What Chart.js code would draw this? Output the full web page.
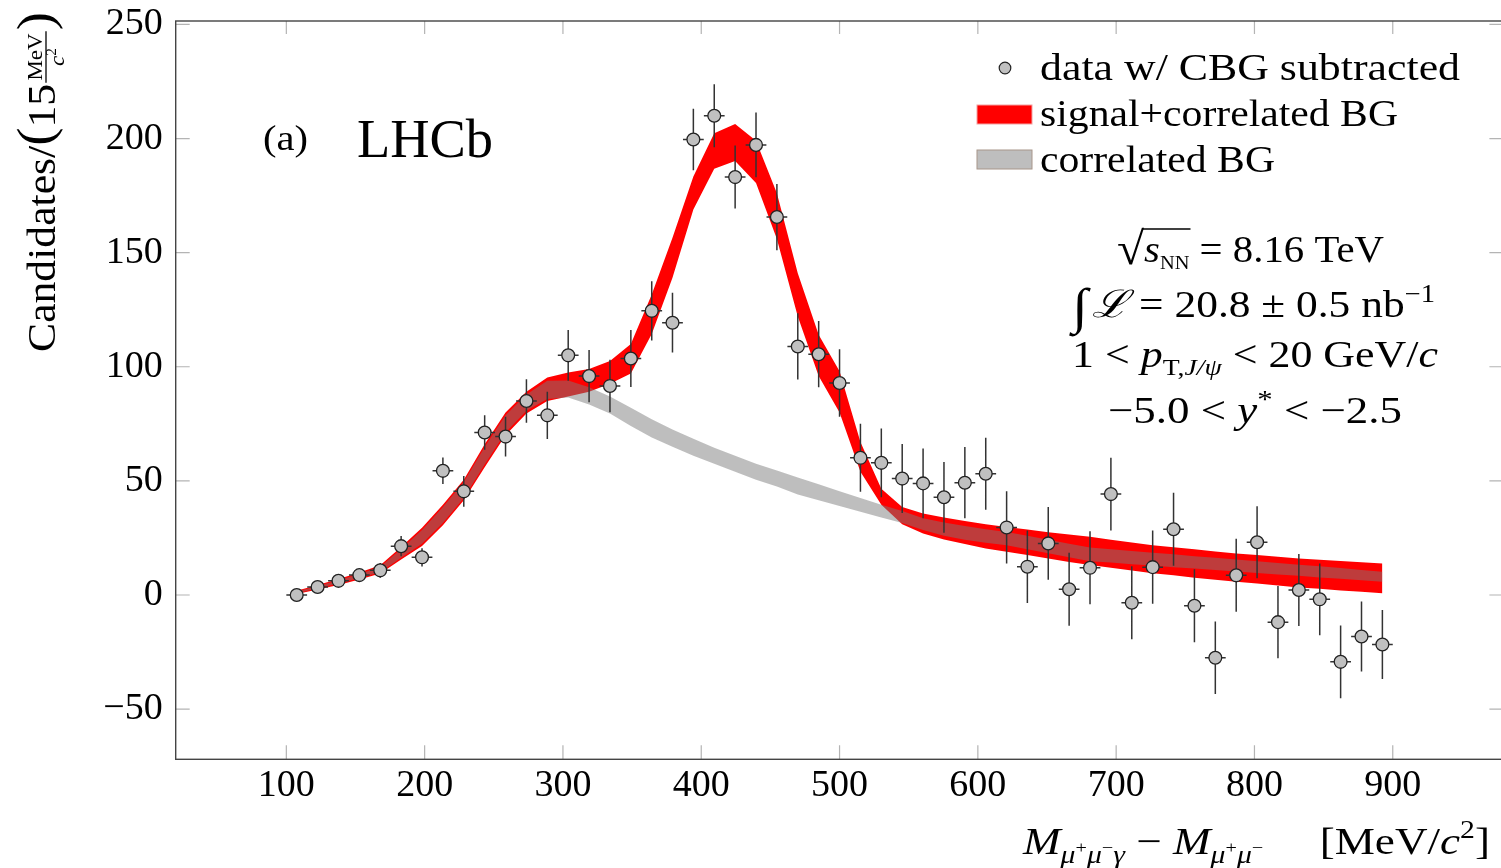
<!DOCTYPE html>
<html lang="en">
<head>
<meta charset="UTF-8">
<title>LHCb (a) mass difference</title>
<style>
  html, body { margin: 0; padding: 0; background: #fff; overflow: hidden; }
  #wrap { width: 1506px; height: 868px; }
</style>
</head>
<body>
<div id="wrap"><canvas id="massChart" width="1506" height="868"></canvas></div>
<script src="https://cdn.jsdelivr.net/npm/chart.js"></script>
<script>
// bin centres, MeV/c^2
const binCentres = [107.5, 122.6, 137.7, 152.8, 167.9, 183.0, 198.1, 213.2, 228.3, 243.4,
  258.5, 273.6, 288.7, 303.8, 318.9, 334.0, 349.1, 364.2, 379.2, 394.3,
  409.4, 424.5, 439.6, 454.7, 469.8, 484.9, 500.0, 515.1, 530.2, 545.3,
  560.4, 575.5, 590.6, 605.7, 620.8, 635.8, 650.9, 666.0, 681.1, 696.2,
  711.3, 726.4, 741.5, 756.6, 771.7, 786.8, 801.9, 817.0, 832.1, 847.2,
  862.3, 877.4, 892.5];

// data w/ CBG subtracted
const dataValues = [0, 3.5, 6.2, 8.7, 10.8, 21.4, 16.5, 54.4, 45.4, 71.2,
  69.4, 85.0, 78.7, 105.0, 95.9, 91.6, 103.6, 124.5, 119.3, 199.6,
  210.0, 183.1, 197.2, 165.6, 108.9, 105.5, 92.9, 60.1, 57.9, 51.0,
  48.9, 42.8, 49.2, 53.1, 29.6, 12.4, 22.6, 2.5, 11.9, 44.2,
  -3.4, 12.2, 28.8, -4.7, -27.5, 8.6, 23.1, -11.9, 2.2, -1.9,
  -29.3, -18.2, -21.7];
const dataErrors = [1.2, 1.8, 2.3, 2.8, 3.2, 4.4, 4.0, 5.8, 6.7, 7.6,
  8.7, 9.5, 10.3, 11.1, 11.4, 11.5, 12.5, 13.0, 13.1, 13.5,
  13.8, 13.8, 14.2, 14.5, 14.5, 14.5, 14.8, 14.9, 15.1, 15.1,
  15.3, 15.5, 15.6, 15.8, 15.8, 15.9, 15.9, 16.0, 16.0, 15.9,
  16.0, 16.0, 16.0, 16.0, 15.9, 16.0, 15.8, 15.8, 15.8, 15.7,
  15.9, 15.3, 15.1];
const binHalfWidth = 7.5;

// signal+correlated BG band
const fullUpper = [1.8, 4.4, 7.0, 9.8, 13.0, 21.0, 29.5, 39.5, 50.5, 66.0,
  80.0, 89.0, 95.3, 97.5, 99.0, 102.5, 110.0, 131.7, 156.5, 183.4,
  202.3, 206.4, 199.0, 176.0, 141.0, 114.0, 98.0, 67.0, 46.5, 38.6,
  35.7, 33.9, 32.4, 31.0, 29.8, 28.7, 27.5, 26.5, 25.5, 24.2,
  23.0, 21.8, 20.9, 20.0, 19.1, 18.2, 17.5, 16.7, 16.0, 15.4,
  14.9, 14.3, 13.8];
const fullLower = [0.4, 2.4, 4.4, 6.8, 9.4, 15.5, 21.5, 30.5, 41.5, 56.0,
  70.0, 79.5, 85.0, 87.0, 89.0, 92.5, 97.0, 114.3, 139.0, 168.9,
  186.8, 190.2, 180.5, 156.0, 122.0, 96.0, 80.0, 54.0, 39.5, 31.0,
  26.9, 24.3, 22.3, 20.4, 18.9, 17.5, 16.0, 14.5, 13.1, 11.9,
  10.7, 9.5, 8.6, 7.6, 6.7, 5.8, 5.0, 4.1, 3.3, 2.7,
  2.0, 1.4, 0.8];

// correlated BG band
const bgUpper = [1.5, 3.9, 6.4, 9.2, 12.4, 20.2, 28.5, 38.5, 49.5, 64.8,
  78.8, 87.8, 93.9, 94.0, 91.0, 87.0, 82.0, 77.0, 72.5, 68.5,
  64.5, 61.0, 57.5, 54.5, 51.5, 48.5, 45.5, 42.5, 39.5, 36.8,
  33.6, 31.8, 30.2, 28.8, 27.6, 25.9, 24.2, 22.5, 20.8, 20.0,
  19.3, 18.5, 17.8, 17.0, 16.3, 15.5, 14.8, 14.0, 13.3, 12.6,
  11.8, 11.0, 10.2];
const bgLower = [0.7, 2.9, 5.0, 7.4, 10.0, 16.3, 22.5, 31.5, 42.5, 57.2,
  71.2, 80.7, 85.9, 86.5, 83.5, 79.5, 74.0, 69.0, 65.0, 61.0,
  57.5, 54.0, 50.5, 47.5, 44.0, 41.5, 39.0, 36.5, 34.0, 31.5,
  28.5, 26.0, 24.2, 22.9, 21.8, 20.0, 18.3, 16.5, 14.8, 14.2,
  13.5, 12.9, 12.2, 11.6, 10.9, 10.3, 9.6, 9.0, 8.4, 7.7,
  7.1, 6.4, 5.8];

const xTickValues = [100, 200, 300, 400, 500, 600, 700, 800, 900];
const yTickValues = [-50, 0, 50, 100, 150, 200, 250];

const SERIF = '"Liberation Serif", "DejaVu Serif", serif';
const DATA_INDEX = 4;

const toPoints = ys => binCentres.map((x, i) => ({ x: x, y: ys[i] }));

function fontOf(p) {
  return (p.it ? 'italic ' : '') + p.s + 'px ' + SERIF;
}

// draws a row of text pieces (sub/superscripts via dy), stretched to fit the width
function fitRuns(ctx, parts, x, y, width) {
  const widths = parts.map(p => { ctx.font = fontOf(p); return ctx.measureText(p.t).width; });
  const total = widths.reduce((a, b) => a + b, 0);
  const sx = width ? width / total : 1;
  ctx.save();
  ctx.translate(x, y);
  ctx.scale(sx, 1);
  ctx.fillStyle = '#000';
  ctx.textBaseline = 'alphabetic';
  ctx.textAlign = 'left';
  let cx = 0, barFrom = null, barTo = null, barY = 0;
  parts.forEach((p, i) => {
    ctx.font = fontOf(p);
    ctx.fillText(p.t, cx, p.dy || 0);
    if (p.over !== undefined) {
      if (barFrom === null) barFrom = cx;
      barTo = cx + widths[i];
      barY = p.over;
    }
    cx += widths[i];
  });
  if (barFrom !== null) {
    ctx.strokeStyle = '#000';
    ctx.lineWidth = 1.6;
    ctx.beginPath();
    ctx.moveTo(barFrom - 1, barY);
    ctx.lineTo(barTo + 1, barY);
    ctx.stroke();
  }
  ctx.restore();
}

const framePlugin = {
  id: 'frame',
  beforeDatasetsDraw(chart) {
    const { ctx, chartArea: a, scales } = chart;
    ctx.save();
    ctx.strokeStyle = '#b4b4b4';
    ctx.lineWidth = 1.2;
    ctx.beginPath();
    xTickValues.forEach(v => {
      const px = scales.x.getPixelForValue(v);
      ctx.moveTo(px, a.bottom); ctx.lineTo(px, a.bottom - 14);
      ctx.moveTo(px, a.top); ctx.lineTo(px, a.top + 13);
    });
    yTickValues.forEach(v => {
      const py = scales.y.getPixelForValue(v);
      ctx.moveTo(a.left, py); ctx.lineTo(a.left + 14, py);
      ctx.moveTo(a.right, py); ctx.lineTo(a.right - 14, py);
    });
    ctx.stroke();
    ctx.strokeStyle = '#444';
    ctx.lineWidth = 1.4;
    ctx.strokeRect(a.left, a.top, a.right - a.left, a.bottom - a.top);
    ctx.restore();
  }
};

const errorBarPlugin = {
  id: 'errorBars',
  beforeDatasetDraw(chart, args) {
    if (args.index !== DATA_INDEX) return;
    const { ctx, scales } = chart;
    ctx.save();
    ctx.strokeStyle = '#333';
    ctx.lineWidth = 1.5;
    ctx.beginPath();
    binCentres.forEach((x, i) => {
      const px = scales.x.getPixelForValue(x);
      const py = scales.y.getPixelForValue(dataValues[i]);
      ctx.moveTo(px, scales.y.getPixelForValue(dataValues[i] + dataErrors[i]));
      ctx.lineTo(px, scales.y.getPixelForValue(dataValues[i] - dataErrors[i]));
      ctx.moveTo(scales.x.getPixelForValue(x - binHalfWidth), py);
      ctx.lineTo(scales.x.getPixelForValue(x + binHalfWidth), py);
    });
    ctx.stroke();
    ctx.restore();
  }
};

const textPlugin = {
  id: 'texts',
  afterDraw(chart) {
    const ctx = chart.ctx;

    // legend
    ctx.save();
    ctx.beginPath();
    ctx.arc(1005, 68, 5.8, 0, Math.PI * 2);
    ctx.fillStyle = '#c0c0c0';
    ctx.fill();
    ctx.strokeStyle = '#222';
    ctx.lineWidth = 1.2;
    ctx.stroke();
    ctx.fillStyle = '#ff0000';
    ctx.fillRect(977, 105, 55, 19);
    ctx.strokeStyle = '#f3a0a0';
    ctx.lineWidth = 1;
    ctx.strokeRect(977, 105, 55, 19);
    ctx.fillStyle = '#bebebe';
    ctx.fillRect(977, 150, 55, 19);
    ctx.strokeStyle = '#a8968a';
    ctx.strokeRect(977, 150, 55, 19);
    ctx.restore();
    fitRuns(ctx, [{ t: 'data w/ CBG subtracted', s: 38 }], 1040, 80, 420);
    fitRuns(ctx, [{ t: 'signal+correlated BG', s: 38 }], 1040, 126, 358);
    fitRuns(ctx, [{ t: 'correlated BG', s: 38 }], 1040, 172, 235);

    // labels
    fitRuns(ctx, [{ t: '(a)', s: 36 }], 263, 150, 45);
    fitRuns(ctx, [{ t: 'LHCb', s: 54 }], 357, 157, 136);

    fitRuns(ctx, [
      { t: '\u221A', s: 46, dy: 2 },
      { t: 's', s: 38, it: true, over: -33 },
      { t: 'NN', s: 19, dy: 7, over: -33 },
      { t: ' = 8.16 TeV', s: 38 }
    ], 1117, 262, 267);
    fitRuns(ctx, [
      { t: '\u222B', s: 50, dy: 6 },
      { t: ' ', s: 14 },
      { t: '\u2112', s: 38, it: true },
      { t: ' = 20.8 \u00B1 0.5 nb', s: 38 },
      { t: '\u22121', s: 25, dy: -15 }
    ], 1072, 317, 363);
    fitRuns(ctx, [
      { t: '1 < ', s: 38 },
      { t: 'p', s: 38, it: true },
      { t: 'T,', s: 24, dy: 8 },
      { t: 'J/\u03C8', s: 24, it: true, dy: 8 },
      { t: ' < 20 GeV/', s: 38 },
      { t: 'c', s: 38, it: true }
    ], 1072, 367, 366);
    fitRuns(ctx, [
      { t: '\u22125.0 < ', s: 38 },
      { t: 'y', s: 38, it: true },
      { t: '*', s: 26, dy: -15 },
      { t: ' < \u22122.5', s: 38 }
    ], 1108, 423, 294);

    // x title
    fitRuns(ctx, [
      { t: 'M', s: 38, it: true },
      { t: '\u03BC', s: 25, it: true, dy: 9 },
      { t: '+', s: 17, dy: -1 },
      { t: '\u03BC', s: 25, it: true, dy: 9 },
      { t: '\u2212', s: 17, dy: -1 },
      { t: '\u03B3', s: 25, it: true, dy: 9 },
      { t: ' \u2212 ', s: 38 },
      { t: 'M', s: 38, it: true },
      { t: '\u03BC', s: 25, it: true, dy: 9 },
      { t: '+', s: 17, dy: -1 },
      { t: '\u03BC', s: 25, it: true, dy: 9 },
      { t: '\u2212', s: 17, dy: -1 },
      { t: '     [MeV/', s: 38 },
      { t: 'c', s: 38, it: true },
      { t: '2', s: 25, dy: -16 },
      { t: ']', s: 38 }
    ], 1023, 854, 467);

    // y title (rotated), with MeV/c^2 as a fraction
    ctx.save();
    ctx.translate(55, 352);
    ctx.rotate(-Math.PI / 2);
    const head = [{ t: 'Candidates/', s: 40 }, { t: '(', s: 50, dy: -3 }, { t: '15', s: 40 }];
    const hw = head.map(p => { ctx.font = fontOf(p); return ctx.measureText(p.t).width; });
    ctx.font = fontOf({ s: 21 });
    const mevW = ctx.measureText('MeV').width;
    const fracW = mevW + 6;
    ctx.font = fontOf({ s: 50 });
    const closeW = ctx.measureText(')').width;
    const total = hw.reduce((a, b) => a + b, 0) + fracW + closeW;
    ctx.scale(340 / total, 1);
    ctx.fillStyle = '#000';
    let cx = 0;
    head.forEach((p, i) => { ctx.font = fontOf(p); ctx.fillText(p.t, cx, p.dy || 0); cx += hw[i]; });
    ctx.font = fontOf({ s: 21 });
    ctx.fillText('MeV', cx + 3, -13);
    ctx.strokeStyle = '#000';
    ctx.lineWidth = 1.3;
    ctx.beginPath();
    ctx.moveTo(cx + 1, -9);
    ctx.lineTo(cx + fracW - 1, -9);
    ctx.stroke();
    ctx.font = fontOf({ s: 21, it: true });
    const cW = ctx.measureText('c').width;
    ctx.font = fontOf({ s: 14 });
    const twoW = ctx.measureText('2').width;
    const cStart = cx + (fracW - cW - twoW) / 2;
    ctx.font = fontOf({ s: 21, it: true });
    ctx.fillText('c', cStart, 9);
    ctx.font = fontOf({ s: 14 });
    ctx.fillText('2', cStart + cW, 1);
    cx += fracW;
    ctx.font = fontOf({ s: 50 });
    ctx.fillText(')', cx, -3);
    ctx.restore();
  }
};

const chartCtx = document.getElementById('massChart').getContext('2d');

new Chart(chartCtx, {
  type: 'line',
  data: {
    datasets: [
      {
        label: 'signal+correlated BG',
        data: toPoints(fullUpper),
        borderColor: 'transparent',
        borderWidth: 0,
        pointRadius: 0,
        tension: 0,
        fill: '+1',
        backgroundColor: '#ff0000',
        order: 4
      },
      {
        label: 'signal+correlated BG (lower)',
        data: toPoints(fullLower),
        borderColor: 'transparent',
        borderWidth: 0,
        pointRadius: 0,
        tension: 0,
        fill: false,
        order: 4
      },
      {
        label: 'correlated BG',
        data: toPoints(bgUpper),
        borderColor: 'transparent',
        borderWidth: 0,
        pointRadius: 0,
        tension: 0,
        fill: '+1',
        backgroundColor: 'rgba(122, 122, 122, 0.49)',
        order: 2
      },
      {
        label: 'correlated BG (lower)',
        data: toPoints(bgLower),
        borderColor: 'transparent',
        borderWidth: 0,
        pointRadius: 0,
        tension: 0,
        fill: false,
        order: 2
      },
      {
        label: 'data w/ CBG subtracted',
        data: toPoints(dataValues),
        showLine: false,
        pointRadius: 6.4,
        pointBackgroundColor: '#c0c0c0',
        pointBorderColor: '#222',
        pointBorderWidth: 1.3,
        order: 0
      }
    ]
  },
  options: {
    responsive: false,
    animation: false,
    devicePixelRatio: 1,
    layout: { autoPadding: false, padding: { top: 21, right: 2.6, bottom: 0, left: 0 } },
    plugins: {
      legend: { display: false },
      tooltip: { enabled: false }
    },
    scales: {
      x: {
        type: 'linear',
        min: 20,
        max: 980,
        grid: { display: false, drawTicks: false },
        border: { display: false },
        ticks: {
          padding: 4,
          color: '#000',
          font: { family: SERIF, size: 38 },
          maxRotation: 0
        },
        afterBuildTicks: s => { s.ticks = xTickValues.map(v => ({ value: v })); },
        afterFit: s => { s.height = 108.7; s.paddingLeft = 0; s.paddingRight = 0; }
      },
      y: {
        min: -72,
        max: 251.5,
        grid: { display: false, drawTicks: false },
        border: { display: false },
        ticks: {
          padding: 13,
          color: '#000',
          font: { family: SERIF, size: 38 },
          callback: v => (v < 0 ? '\u2212' + Math.abs(v) : String(v))
        },
        afterBuildTicks: s => { s.ticks = yTickValues.map(v => ({ value: v })); },
        afterFit: s => { s.width = 175.7; s.paddingTop = 0; s.paddingBottom = 0; }
      }
    }
  },
  plugins: [framePlugin, errorBarPlugin, textPlugin]
});
</script>
</body>
</html>
